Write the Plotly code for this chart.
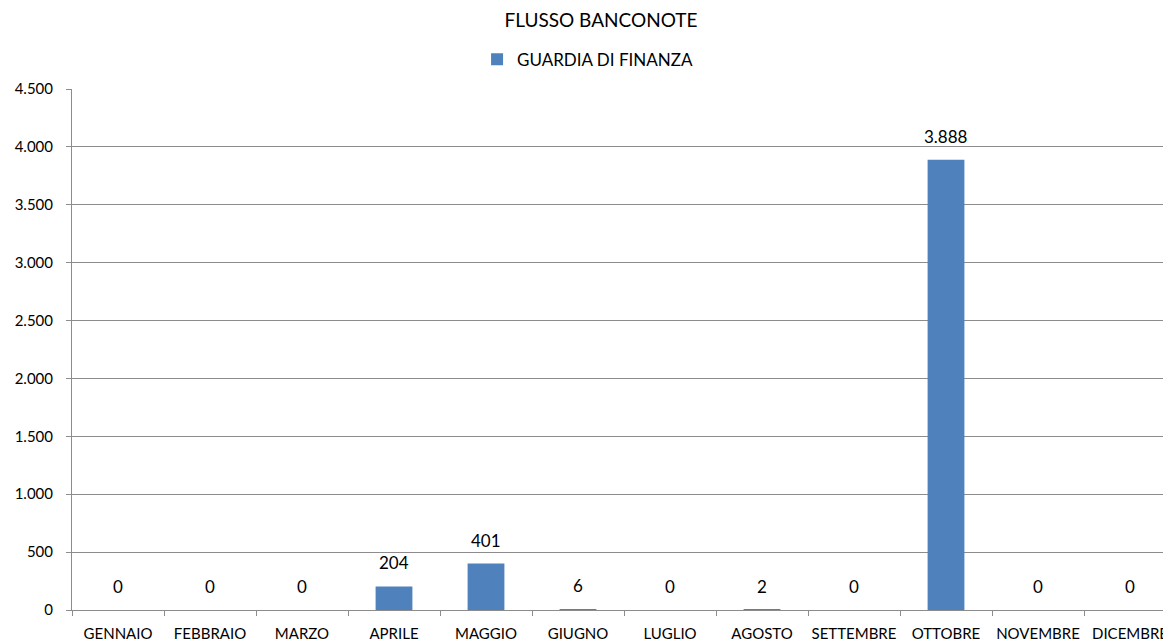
import plotly.graph_objects as go

months = ["GENNAIO", "FEBBRAIO", "MARZO", "APRILE", "MAGGIO", "GIUGNO",
          "LUGLIO", "AGOSTO", "SETTEMBRE", "OTTOBRE", "NOVEMBRE", "DICEMBRE"]
values = [0, 0, 0, 204, 401, 6, 0, 2, 0, 3888, 0, 0]
series_name = "GUARDIA DI FINANZA"
title_text = "FLUSSO BANCONOTE"

FONT = "Lato, Open Sans, sans-serif"
GRID = "#8c8c8c"

fig = go.Figure()
fig.add_trace(go.Bar(x=months, y=values, name=series_name,
                     marker=dict(color="#4F81BD", line=dict(width=0))))

def fmt(v):
    return f"{v:,}".replace(",", ".")

for m, v in zip(months, values):
    fig.add_annotation(x=m, y=v, text=fmt(v), showarrow=False,
                       yanchor="bottom", yshift=11,
                       font=dict(family=FONT, size=17, color="#000000"))

fig.update_layout(
    width=1171, height=643,
    margin=dict(l=64, r=3, t=81, b=41, autoexpand=False),
    paper_bgcolor="white", plot_bgcolor="white",
    separators=",.",
    bargap=0.6,
    showlegend=True,
    title=dict(text=title_text, x=593 / 1171, xref="container", xanchor="center",
               y=1 - 12 / 643, yref="container", yanchor="middle",
               font=dict(family=FONT, size=19, color="#000000")),
    legend=dict(orientation="h", x=0.467, xanchor="center", y=1.056, yanchor="middle",
                font=dict(family=FONT, size=17, color="#000000"),
                itemwidth=30, itemsizing="constant"),
    font=dict(family=FONT, color="#000000"),
)
fig.update_yaxes(range=[0, 4500], dtick=500, tickformat=",d",
                 showgrid=True, gridcolor=GRID, gridwidth=1,
                 showline=True, linecolor=GRID, linewidth=1,
                 ticks="outside", ticklen=5, tickcolor=GRID,
                 ticklabelstandoff=10, automargin=False,
                 tickfont=dict(family=FONT, size=15, color="#000000"),
                 zeroline=False, fixedrange=True)
fig.update_xaxes(showline=True, linecolor=GRID, linewidth=1,
                 ticks="outside", ticklen=5, tickcolor=GRID, tickson="boundaries",
                 ticklabelstandoff=10, tickangle=0, automargin=False,
                 tickfont=dict(family=FONT, size=15, color="#000000"),
                 showgrid=False)

fig.write_html("out.html")
